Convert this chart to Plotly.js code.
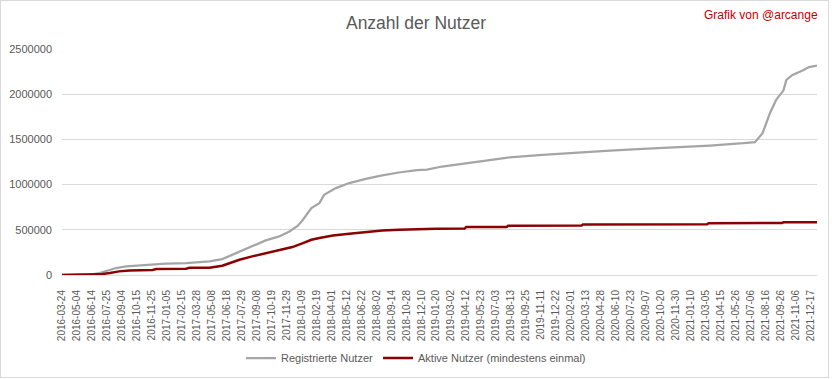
<!DOCTYPE html>
<html>
<head>
<meta charset="utf-8">
<script src="https://cdn.plot.ly/plotly-3.0.1.min.js"></script>
<style>
  html, body { margin: 0; padding: 0; background: #ffffff; }
  #wrap { position: relative; width: 832px; height: 379px; }
  #chart { width: 832px; height: 379px; }
  #frame { position: absolute; left: 0; top: 0; width: 827px; height: 376px; border: 1px solid #d9d9d9; pointer-events: none; }
</style>
</head>
<body>
<div id="wrap"><div id="chart"></div><div id="frame"></div></div>
<script>
// Tick labels (one every 41 rows of the category axis)
const tickLabels = [
  "2016-03-24","2016-05-04","2016-06-14","2016-07-25","2016-09-04","2016-10-15","2016-11-25",
  "2017-01-05","2017-02-15","2017-03-28","2017-05-08","2017-06-18","2017-07-29","2017-09-08",
  "2017-10-19","2017-11-29","2018-01-09","2018-02-19","2018-04-01","2018-05-12","2018-06-22",
  "2018-08-02","2018-09-14","2018-10-28","2018-12-10","2019-01-20","2019-03-02","2019-04-12",
  "2019-05-23","2019-07-03","2019-08-13","2019-09-25","2019-11-11","2019-12-22","2020-02-01",
  "2020-03-13","2020-04-28","2020-06-10","2020-07-23","2020-09-07","2020-10-20","2020-11-30",
  "2021-01-10","2021-03-05","2021-04-15","2021-05-26","2021-07-06","2021-08-16","2021-09-26",
  "2021-11-06","2021-12-17"
];
const tickStep = 41;
const lastRow = 2068;

// Registrierte Nutzer (row index, value)
const regRows = [0,41,82,103,131,148,176,213,285,340,404,439,486,521,558,595,623,646,660,683,693,705,718,750,787,832,877,923,972,1000,1041,1136,1226,1316,1410,1501,1591,1681,1775,1866,1898,1919,1939,1956,1976,1984,2001,2030,2046,2068];
const regValues = [0,2000,8000,20000,58000,77000,95000,106000,125000,132000,150000,176000,261000,316000,383000,427000,482000,545000,611000,740000,769000,795000,887000,961000,1017000,1064000,1101000,1134000,1160000,1165000,1200000,1255000,1300000,1329000,1355000,1377000,1394000,1410000,1432000,1458000,1470000,1569000,1790000,1937000,2040000,2158000,2213000,2265000,2300000,2316000];

// Aktive Nutzer (mindestens einmal)
const actRows = [0,82,103,131,156,185,248,258,340,349,404,439,486,521,558,595,631,660,683,705,742,787,832,877,923,972,1025,1103,1107,1218,1222,1423,1427,1767,1771,1972,1976,2068];
const actValues = [0,3000,7000,22000,40000,51000,55000,66000,70000,81000,81000,103000,169000,206000,243000,272000,309000,353000,390000,409000,438000,456000,478000,493000,500000,508000,512000,514000,530000,532000,545000,547000,559000,562000,573000,575000,583000,584000];

const tickVals = tickLabels.map((_, i) => i * tickStep);

const font = "Liberation Sans, Arial, sans-serif";

const traces = [
  {
    x: regRows, y: regValues, type: "scatter", mode: "lines",
    name: "Registrierte Nutzer",
    line: { color: "#a5a5a5", width: 2.25 }
  },
  {
    x: actRows, y: actValues, type: "scatter", mode: "lines",
    name: "Aktive Nutzer (mindestens einmal)",
    line: { color: "#8b0000", width: 2.5 }
  }
];

const layout = {
  width: 832, height: 379,
  margin: { l: 62, r: 14.5, t: 49, b: 104, autoexpand: false },
  paper_bgcolor: "#ffffff", plot_bgcolor: "#ffffff",
  font: { family: font, color: "#595959" },
  title: {
    text: "Anzahl der Nutzer",
    font: { family: font, size: 17.5, color: "#595959" },
    x: 0.5, xanchor: "center", xref: "container",
    y: 1 - 23 / 379, yanchor: "middle", yref: "container"
  },
  xaxis: {
    range: [0, lastRow], automargin: false,
    tickmode: "array", tickvals: tickVals, ticktext: tickLabels,
    tickangle: -90, tickfont: { family: font, size: 10, color: "#595959" },
    showgrid: false, zeroline: false,
    showline: true, linecolor: "#d9d9d9", linewidth: 1,
    ticks: "", ticklabelstandoff: 10, fixedrange: true
  },
  yaxis: {
    range: [0, 2500000], automargin: false, dtick: 500000, tick0: 0, tickformat: "d",
    tickfont: { family: font, size: 11, color: "#595959" },
    showgrid: true, gridcolor: "#d9d9d9", gridwidth: 1,
    zeroline: false, showline: false, ticks: "", ticklabelstandoff: 9, fixedrange: true
  },
  showlegend: true,
  legend: {
    orientation: "h", x: 416 / 832, xref: "container", xanchor: "center",
    y: 1 - 358 / 379, yref: "container", yanchor: "middle",
    font: { family: font, size: 11, color: "#595959" },
    bgcolor: "rgba(0,0,0,0)", traceorder: "normal", itemwidth: 30
  },
  annotations: [
    {
      text: "Grafik von @arcange", xref: "paper", yref: "paper",
      x: (821 - 62) / 755.5, xanchor: "right", y: (275 - 15) / 226, yanchor: "middle",
      showarrow: false, font: { family: font, size: 12, color: "#c00000" }
    }
  ]
};

Plotly.newPlot("chart", traces, layout, { displayModeBar: false, staticPlot: true });
</script>
</body>
</html>
